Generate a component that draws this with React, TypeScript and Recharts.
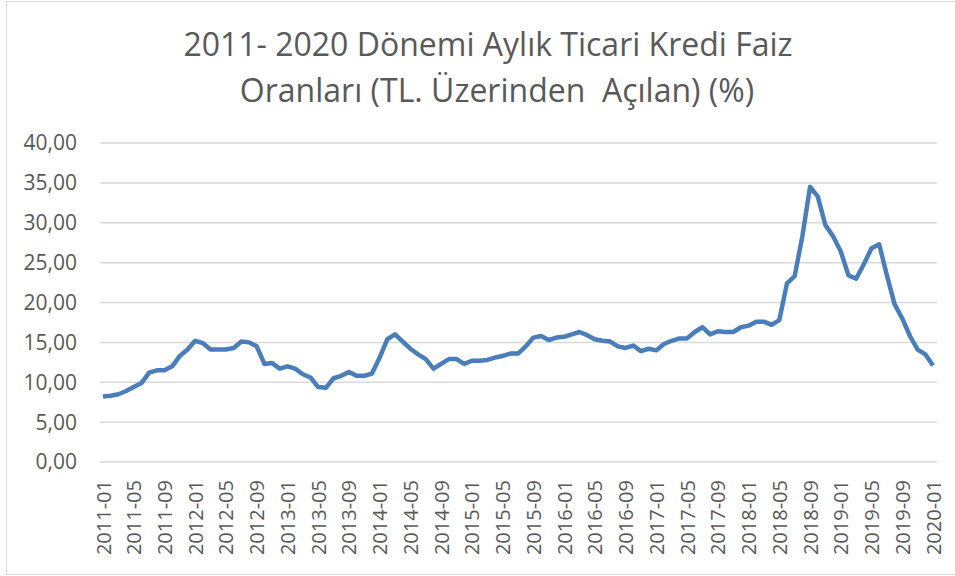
/**
 * Monthly commercial loan rate chart (TL), 2011-2020
 */

import { LineChart, Line, XAxis, YAxis, CartesianGrid } from 'recharts';

const titleLines = [
  '2011- 2020 Dönemi Aylık Ticari Kredi Faiz',
  'Oranları (TL. Üzerinden  Açılan) (%)',
];
const titleCenters = [488, 497];

const years = [2011, 2012, 2013, 2014, 2015, 2016, 2017, 2018, 2019, 2020];
const months = ['01', '02', '03', '04', '05', '06', '07', '08', '09', '10', '11', '12'];

// monthly rates, %
const rates2011 = [8.2, 8.3, 8.5, 8.9, 9.4, 9.9, 11.2, 11.5, 11.5, 12.0, 13.3, 14.1];
const rates2012 = [15.2, 14.9, 14.1, 14.1, 14.1, 14.3, 15.1, 15.0, 14.5, 12.3, 12.4, 11.7];
const rates2013 = [12.0, 11.7, 11.0, 10.6, 9.4, 9.3, 10.5, 10.8, 11.3, 10.8, 10.8, 11.1];
const rates2014 = [13.1, 15.4, 16.0, 15.1, 14.2, 13.5, 12.9, 11.7, 12.3, 12.9, 12.9, 12.3];
const rates2015 = [12.7, 12.7, 12.8, 13.1, 13.3, 13.6, 13.6, 14.5, 15.6, 15.8, 15.3, 15.6];
const rates2016 = [15.7, 16.0, 16.3, 15.9, 15.4, 15.2, 15.1, 14.5, 14.3, 14.6, 13.9, 14.2];
const rates2017 = [14.0, 14.8, 15.2, 15.5, 15.5, 16.3, 16.9, 16.0, 16.4, 16.3, 16.3, 16.9];
const rates2018 = [17.1, 17.6, 17.6, 17.2, 17.8, 22.4, 23.3, 28.3, 34.5, 33.3, 29.7, 28.3];
const rates2019 = [26.4, 23.4, 23.0, 24.8, 26.8, 27.3, 23.4, 19.8, 18.0, 15.8, 14.1, 13.5];
const rates2020 = [12.1];

const yTicks = [0, 5, 10, 15, 20, 25, 30, 35, 40];

const allRates = [
  rates2011, rates2012, rates2013, rates2014, rates2015,
  rates2016, rates2017, rates2018, rates2019, rates2020,
];

const data = allRates.flatMap((yearRates, yi) =>
  yearRates.map((rate, mi) => ({
    month: `${years[yi]}-${months[mi]}`,
    rate,
  }))
);

const FONT = '"Open Sans", sans-serif';
const TEXT = '#595959';

function MonthTick(props: any) {
  const { x, y, payload } = props;
  return (
    <text
      x={x}
      y={y}
      transform={`rotate(-90 ${x} ${y})`}
      textAnchor="end"
      dominantBaseline="central"
      fill={TEXT}
      style={{ fontSize: '20px', fontFamily: FONT }}
    >
      {payload.value}
    </text>
  );
}

export default function App() {
  return (
    <div
      style={{
        position: 'fixed',
        left: 0,
        top: 0,
        width: 955,
        height: 576,
        overflow: 'hidden',
        background: '#fff',
        fontFamily: FONT,
      }}
    >
      <div
        style={{
          position: 'absolute',
          left: 6,
          top: 1,
          width: 980,
          height: 572,
          border: '1.5px solid #d9d9d9',
        }}
      />
      {titleLines.map((line, i) => (
        <div
          key={i}
          style={{
            position: 'absolute',
            left: titleCenters[i] - 450,
            width: 900,
            top: 22 + i * 46,
            textAlign: 'center',
            whiteSpace: 'pre',
            fontSize: '32px',
            lineHeight: '44px',
            color: TEXT,
          }}
        >
          {line}
        </div>
      ))}
      <div style={{ position: 'absolute', left: 0, top: 0 }}>
        <LineChart
          width={955}
          height={576}
          data={data}
          margin={{ top: 143, right: 18, bottom: 5, left: 0 }}
        >
          <CartesianGrid vertical={false} stroke="#d9d9d9" strokeWidth={1.5} />
          <XAxis
            dataKey="month"
            interval={3}
            axisLine={false}
            tickLine={false}
            tickSize={0}
            tickMargin={18}
            height={109}
            padding={{ left: 3, right: 4 }}
            tick={<MonthTick />}
          />
          <YAxis
            domain={[0, 40]}
            ticks={yTicks}
            width={100}
            axisLine={false}
            tickLine={false}
            tickSize={0}
            tickMargin={23}
            tickFormatter={(v: number) => v.toFixed(2).replace('.', ',')}
            tick={{ fill: TEXT, fontSize: 21, fontFamily: FONT }}
          />
          <Line
            type="linear"
            dataKey="rate"
            stroke="#4a7ebb"
            strokeWidth={4.5}
            strokeLinejoin="round"
            dot={false}
            isAnimationActive={false}
          />
        </LineChart>
      </div>
    </div>
  );
}
